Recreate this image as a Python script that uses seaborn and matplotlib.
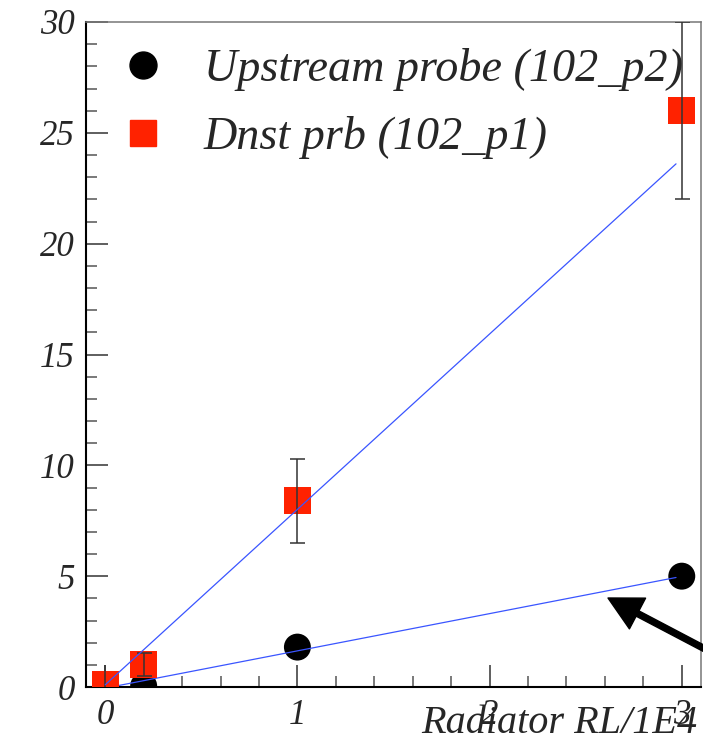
import matplotlib
matplotlib.use("Agg")
import matplotlib.pyplot as plt
from matplotlib.ticker import MultipleLocator
from matplotlib.lines import Line2D
import seaborn as sns
import pandas as pd

# ---- data ----
up_label = "Upstream probe (102_p2)"
dn_label = "Dnst prb (102_p1)"
up_x = [0.2, 1.0, 3.0]
up_y = [0.05, 1.8, 5.0]
dn_x = [0.0, 0.2, 1.0, 3.0]
dn_y = [0.1, 1.0, 8.4, 26.0]
dn_err = [0.9, 0.52, 1.9, 4.0]
fit_x = [0.0, 2.97]
up_fit = [-0.05, 4.94]
dn_fit = [0.1, 23.6]
x_label = "Radiator RL/1E4"

sns.set_style("white")
plt.rcParams["font.family"] = ["Liberation Serif", "DejaVu Serif"]
plt.rcParams["font.style"] = "italic"

RED = "#ff2200"
BLUE = "#3a55ff"

fig = plt.figure(figsize=(7.03, 7.56), dpi=100)
ax = fig.add_axes([86 / 703, 69 / 756, 615 / 703, 665 / 756])

up_df = pd.DataFrame({"x": up_x, "y": up_y})
dn_df = pd.DataFrame({"x": dn_x, "y": dn_y, "err": dn_err})

msize = 19.4
sns.scatterplot(data=up_df, x="x", y="y", ax=ax, marker="o", color="black",
                s=msize ** 2, edgecolor="none", linewidth=0, zorder=2, legend=False)
sns.lineplot(x=fit_x, y=up_fit, ax=ax, color=BLUE, lw=0.9, zorder=3)
sns.scatterplot(data=dn_df, x="x", y="y", ax=ax, marker="s", color=RED,
                s=msize ** 2, edgecolor="none", linewidth=0, zorder=4, legend=False)
capped = dn_df[dn_df["x"] > 0]
uncapped = dn_df[dn_df["x"] <= 0]
ax.errorbar(capped["x"], capped["y"], yerr=capped["err"], fmt="none",
            ecolor="#333333", elinewidth=1.1, capsize=5.4, capthick=1.1, zorder=5)
ax.errorbar(uncapped["x"], uncapped["y"], yerr=uncapped["err"], fmt="none",
            ecolor="#333333", elinewidth=1.1, capsize=0, zorder=5)
sns.lineplot(x=fit_x, y=dn_fit, ax=ax, color=BLUE, lw=0.9, zorder=6)

ax.set_xlim(-0.1, 3.1)
ax.set_ylim(0, 30)
ax.xaxis.set_major_locator(MultipleLocator(1))
ax.xaxis.set_minor_locator(MultipleLocator(0.2))
ax.yaxis.set_major_locator(MultipleLocator(5))
ax.yaxis.set_minor_locator(MultipleLocator(1))
ax.tick_params(axis="both", which="major", direction="in", length=16, width=1.1,
               color="#333333", labelsize=25)
ax.tick_params(axis="both", which="minor", direction="in", length=8, width=1.1,
               color="#555555")
ax.tick_params(axis="x", which="both", bottom=True, top=False, pad=9)
ax.tick_params(axis="y", which="both", left=True, right=False, pad=8)
for lab in ax.get_xticklabels() + ax.get_yticklabels():
    lab.set_fontstyle("italic")

for side in ["left", "bottom"]:
    ax.spines[side].set_color("black")
    ax.spines[side].set_linewidth(1.5)
for side in ["top", "right"]:
    ax.spines[side].set_color("#777777")
    ax.spines[side].set_linewidth(1.1)

ax.set_ylabel("")
ax.set_xlabel(x_label, fontsize=29, fontstyle="italic", ha="right", va="baseline")
ax.xaxis.set_label_coords(611 / 615, -(733 - 687) / 665)

handles = [
    Line2D([], [], marker="o", color="black", ls="none", markersize=msize),
    Line2D([], [], marker="s", color=RED, ls="none", markersize=msize),
]
ax.legend(handles, [up_label, dn_label], loc="upper left",
          bbox_to_anchor=(34 / 615, 1 - 26 / 665), frameon=False,
          handlelength=1.0, handletextpad=0.82, borderpad=0, borderaxespad=0,
          labelspacing=0.55, prop={"style": "italic", "size": 33.2})

ax.annotate("", xy=(608, 756 - 598), xycoords="figure pixels",
            xytext=(745, 756 - 670), textcoords="figure pixels",
            annotation_clip=False,
            arrowprops=dict(facecolor="black", edgecolor="black", width=4.3,
                            headwidth=25, headlength=24, shrink=0))

fig.savefig("out.png", dpi=100)
